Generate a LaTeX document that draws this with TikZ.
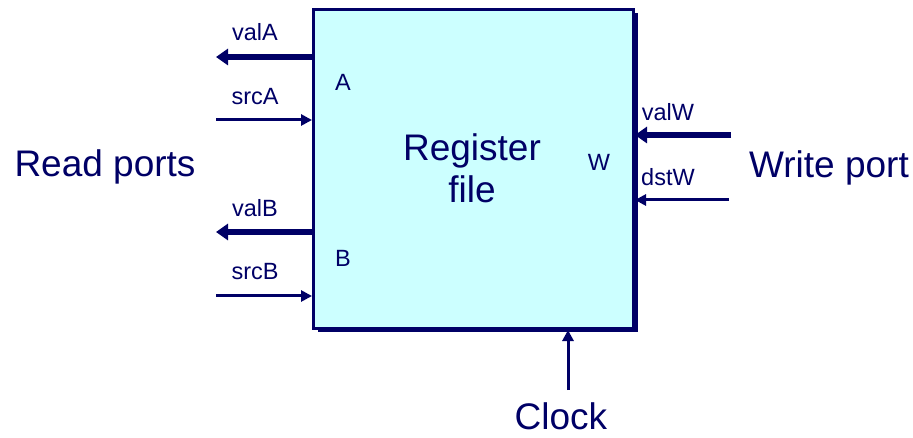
\documentclass[tikz,border=0pt]{standalone}
\usepackage{fontspec}
\setmainfont{Liberation Sans}
\usetikzlibrary{arrows.meta,shadows,positioning}
\definecolor{navy}{HTML}{000066}
\definecolor{regfill}{HTML}{CCFFFF}
\tikzset{
  lbl/.style={text=navy, font=\fontsize{23.5}{27}\selectfont, inner sep=0pt},
  biglbl/.style={text=navy, font=\fontsize{37}{42}\selectfont, inner sep=0pt, align=center},
  thickwire/.style={navy, line width=6pt, -{Triangle[length=12pt,width=16pt]}},
  thinwire/.style={navy, line width=3pt, -{Triangle[length=11pt,width=11pt]}},
}
\begin{document}
\begin{tikzpicture}[x=1pt,y=-1pt]
  \useasboundingbox (0,0) rectangle (913,438);
  % register file block with drop shadow
  \node[draw=navy, line width=3pt, fill=regfill, minimum width=320pt, minimum height=319pt,
        anchor=north west, inner sep=0pt,
        drop shadow={shadow xshift=4pt, shadow yshift=-4pt, fill=navy, opacity=1}]
        (box) at (312,8) {};
  \node[biglbl] (title) at (472,168) {Register\\file};
  \node[lbl] (pA) at (343,82) {A};
  \node[lbl] (pB) at (343,258) {B};
  \node[lbl] (pW) at (599,162) {W};

  % read port A
  \coordinate (valAout) at (216,57);
  \coordinate (srcAin) at (216,120);
  \draw[thickwire] (box.west |- valAout) -- (valAout);
  \draw[thinwire] (srcAin) -- (box.west |- srcAin);
  \node[lbl] (valA) at (255,32) {valA};
  \node[lbl] (srcA) at (255,97) {srcA};

  % read port B
  \coordinate (valBout) at (216,232);
  \coordinate (srcBin) at (216,296);
  \draw[thickwire] (box.west |- valBout) -- (valBout);
  \draw[thinwire] (srcBin) -- (box.west |- srcBin);
  \node[lbl] (valB) at (255,208) {valB};
  \node[lbl] (srcB) at (255,272) {srcB};

  % write port
  \coordinate (valWin) at (731,135);
  \coordinate (dstWin) at (729,200);
  \draw[thickwire] (valWin) -- (box.east |- valWin);
  \draw[thinwire] (dstWin) -- (box.east |- dstWin);
  \node[lbl] (valW) at (668,112) {valW};
  \node[lbl] (dstW) at (668,177) {dstW};

  % clock
  \coordinate (clkin) at (568,390);
  \draw[thinwire] (clkin) -- (box.south -| clkin);
  \node[biglbl] (clock) at (561,416) {Clock};

  \node[biglbl] (read) at (105,167) {Read ports};
  \node[biglbl] (write) at (829,168) {Write port};
\end{tikzpicture}
\end{document}
